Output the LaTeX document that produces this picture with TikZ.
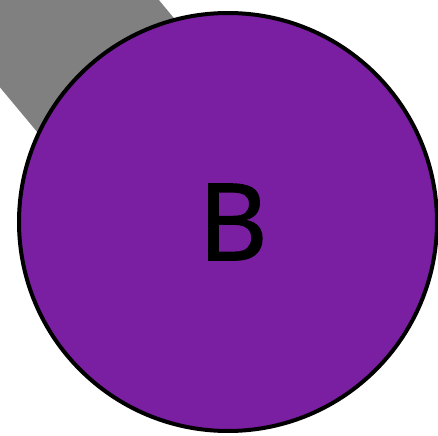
\documentclass[tikz,border=0pt]{standalone}
\usepackage{fontspec}
\setmainfont{Noto Sans}
\newfontfamily\labelfont[FakeBold=1]{Noto Sans}
\usepackage{xcolor}
\usepackage{tikz}
\usetikzlibrary{positioning, calc, backgrounds}
\definecolor{nodepurple}{HTML}{7B1FA2}
\definecolor{edgegray}{HTML}{808080}
\tikzset{
    vertex/.style={
        circle, draw=black, fill=nodepurple,
        line width=0.04cm, inner sep=0pt,
        minimum size=4.18cm, font=\labelfont\fontsize{30.5}{36}\selectfont
    },
    band/.style={draw=edgegray, line width=1.78cm}
}
\begin{document}
\begin{tikzpicture}
        \useasboundingbox (0,0) rectangle (4.38,4.35);
        \node (B) [vertex] at (2.28,2.13) {\hspace*{0.1cm}B};
        \coordinate (A) at ($(B)+(129.8:4.5)$);

        \begin{scope}[on background layer]
        \draw [band] (A) -- (B.center);
        \end{scope}
    \end{tikzpicture}
\end{document}
